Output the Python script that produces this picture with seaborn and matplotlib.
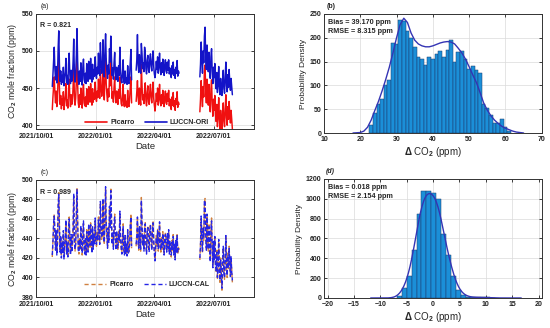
import numpy as np
import pandas as pd
import matplotlib
matplotlib.use("Agg")
import matplotlib.pyplot as plt
from matplotlib.lines import Line2D
import seaborn as sns

# ---------------- data ----------------
seg_starts = ["2021-10-26", "2022-03-04", "2022-06-10"]

picarro_s1 = [421,438,452,465,444,430,446,425,433,470,487,450,428,440,422,435,427,445,421,431,
              440,456,426,434,423,448,462,437,425,441,428,432,452,482,440,427,436,460,492,455,
              430,424,441,428,450,433,423,446,455,430,426,438,425,449,435,428,452,440,431,456,
              437,427,449,431,443,435,458,440,432,446,437,462,444,436,475,452,439,447,478,446,
              434,466,490,455,441,432,449,438,470,453,492,460,436,445,431,451,465,440,430,446,
              434,428,448,436,465,442,429,426,438,455,428,425,441,426,432,424,447,427,425,436,
              452,465,430]
picarro_s2 = [432,445,460,438,428,450,436,427,482,455,434,441,429,448,457,433,426,444,453,431,
              428,446,455,437,430,445,458,436,427,419,429,443,432,450,427,438,455,433,426,441,
              429,447,436,425,438,446,430,428,443,432,447,426,435,429,421,438,427,444,425,433,
              420,436,428,445,424,431,428]
picarro_s3 = [418,435,460,442,425,452,438,476,481,445,430,462,440,427,455,432,418,448,461,428,
              412,435,420,440,415,405,428,398,412,437,408,395,420,402,387,415,430,405,398,422,
              441,410,400,425,408,432,415,403,420,408,395]

ori_s1 = [452,468,486,505,476,461,479,457,466,503,527,482,459,473,455,467,458,478,453,463,
          472,490,457,467,455,482,497,468,456,474,459,464,486,516,471,458,469,494,530,487,
          461,455,473,459,484,464,454,478,489,462,457,470,456,483,467,459,486,472,462,490,
          468,458,482,462,475,466,492,471,463,478,469,497,475,467,511,484,470,479,515,478,
          465,500,523,487,472,463,481,469,503,485,520,492,467,477,462,484,498,471,461,478,
          465,459,480,467,505,474,460,457,470,488,459,456,473,457,464,455,480,458,456,468,
          486,502,461]
ori_s2 = [474,488,522,481,471,495,479,470,510,497,476,484,472,505,498,476,469,487,494,474,
          471,489,496,480,473,488,500,479,469,464,472,486,475,492,470,481,497,476,468,484,
          471,489,479,467,481,488,473,470,485,474,488,469,477,471,464,480,469,485,467,475,
          463,478,470,487,466,473,470]
ori_s3 = [465,482,512,488,470,500,484,520,532,490,475,508,485,472,498,476,463,492,503,472,
          456,478,464,483,459,449,471,444,455,479,452,441,463,446,440,458,474,449,443,466,
          485,453,445,468,451,475,458,447,463,452,441]

cal_s1 = [423,436,455,463,447,428,449,423,436,474,485,453,426,443,420,437,425,448,419,433,
          442,459,424,436,421,451,460,439,423,444,426,435,450,486,438,429,434,463,490,458,
          428,426,439,430,453,431,425,444,458,428,424,441,423,447,437,426,455,438,433,454,
          439,425,452,429,445,433,461,438,434,444,439,459,446,434,478,450,441,445,481,444,
          436,463,493,452,443,430,451,436,473,451,489,462,434,447,429,453,462,442,428,448,
          432,430,445,438,468,440,431,424,440,452,430,423,443,424,434,422,449,425,427,434,
          455,462,432]
cal_s2 = [434,443,462,436,430,452,434,429,479,457,432,443,427,450,455,435,424,446,451,433,
          426,448,453,439,428,447,456,438,425,417,431,441,434,448,429,436,457,431,428,439,
          431,445,438,423,440,444,432,426,445,430,449,424,437,427,423,436,429,442,423,435,
          418,438,426,443,426,429,430]
cal_s3 = [420,433,463,440,427,450,441,479,478,447,428,465,438,429,452,434,416,450,458,430,
          410,437,418,442,413,407,426,400,410,439,406,397,418,404,389,413,432,403,400,420,
          443,408,402,423,410,430,417,401,422,406,397]

date_ticks = ["2021-10-01", "2022-01-01", "2022-04-01", "2022-07-01"]
date_tick_labels = ["2021/10/01", "2022/01/01", "2022/04/01", "2022/07/01"]

# histogram of Delta CO2 (LUCCN-ORI - Picarro)
delta_b_centers = [23, 24, 25, 26, 27, 28, 29, 30, 31, 32, 33, 34, 35, 36, 37, 38, 39, 40, 41,
                   42, 43, 44, 45, 46, 47, 48, 49, 50, 51, 52, 53, 54, 55, 56, 57, 58, 59, 60, 61]
delta_b_counts = [17, 43, 60, 71, 100, 112, 190, 186, 238, 236, 215, 200, 180, 160, 155, 143,
                  160, 155, 165, 172, 160, 175, 195, 150, 170, 172, 155, 135, 140, 132, 125,
                  60, 52, 38, 20, 22, 30, 12, 4]
# fitted density curve of panel (b)
curve_b_x = [18, 20, 21, 22, 23, 24, 25, 26, 27, 28, 29, 30, 31, 32, 33, 34, 35, 36, 37, 38,
             39, 40, 41, 42, 43, 44, 45, 46, 47, 48, 49, 50, 51, 52, 53, 54, 55, 56, 57, 58,
             59, 60, 61, 62, 63, 64, 65]
curve_b_y = [0, 1, 4, 12, 27, 47, 66, 88, 112, 138, 168, 200, 228, 241, 232, 210, 195, 187,
             183, 181, 181, 183, 186, 189, 191, 192, 191, 187, 178, 168, 155, 139, 122, 106,
             85, 63, 48, 36, 27, 20, 14, 10, 7, 4, 2, 1, 0]
# histogram of Delta CO2 (LUCCN-CAL - Picarro)
delta_d_centers = [-6.40, -5.47, -4.54, -3.61, -2.68, -1.75, -0.82, 0.11, 1.04, 1.97, 2.90,
                   3.83, 4.76, 5.69, 6.62, 7.55, 8.48, 9.41, 10.34, 11.27]
delta_d_counts = [20, 100, 220, 480, 850, 1080, 1080, 1060, 1000, 640, 430, 220, 80, 30, 12,
                  6, 5, 5, 6, 2]

stats_a = "R = 0.821"
stats_c = "R = 0.989"
stats_b = ["Bias = 39.170 ppm", "RMSE = 8.315 ppm"]
stats_d = ["Bias = 0.018 ppm", "RMSE = 2.154 ppm"]

# ---------------- style ----------------
sns.set_theme(style="ticks")
plt.rcParams["font.family"] = ["Liberation Sans", "DejaVu Sans"]
plt.rcParams["font.weight"] = "bold"
plt.rcParams["mathtext.fontset"] = "custom"
plt.rcParams["mathtext.rm"] = "Liberation Sans"
plt.rcParams["mathtext.bf"] = "Liberation Sans:bold"

RED = "#f01010"
BLUE = "#1414c8"
ORANGE = "#d08040"
BLUE2 = "#2424e6"
BAR = "#1b8fd8"
KDE = "#3434b4"


def series_frame(segments, starts):
    frames = []
    for k, (vals, st) in enumerate(zip(segments, starts)):
        frames.append(pd.DataFrame({
            "date": pd.date_range(st, periods=len(vals), freq="D"),
            "co2": vals, "seg": k}))
    return pd.concat(frames, ignore_index=True)


def style(ax, xpad=2):
    ax.grid(True, color="#dadada", lw=0.5)
    ax.set_axisbelow(True)
    ax.tick_params(direction="in", length=2.2, width=0.6, top=True, right=True,
                   labelsize=5, pad=2, colors="#222222")
    ax.tick_params(axis="x", pad=xpad)
    for lab in ax.get_xticklabels() + ax.get_yticklabels():
        lab.set_fontweight("bold")
    for s in ax.spines.values():
        s.set_linewidth(0.7)
        s.set_color("#333333")


fig = plt.figure(figsize=(5.5, 3.28), dpi=100)
ax_a = fig.add_axes([0.0655, 0.607, 0.396, 0.351])
ax_c = fig.add_axes([0.0655, 0.0945, 0.396, 0.357])
ax_b = fig.add_axes([0.589, 0.5945, 0.396, 0.363])
ax_d = fig.add_axes([0.589, 0.0915, 0.396, 0.363])

df_p = series_frame([picarro_s1, picarro_s2, picarro_s3], seg_starts)
df_o = series_frame([ori_s1, ori_s2, ori_s3], seg_starts)
df_c = series_frame([cal_s1, cal_s2, cal_s3], seg_starts)

# ---- (a)
sns.lineplot(data=df_p, x="date", y="co2", units="seg", estimator=None, sort=False,
             color=RED, lw=1.05, ax=ax_a, legend=False)
sns.lineplot(data=df_o, x="date", y="co2", units="seg", estimator=None, sort=False,
             color=BLUE, lw=1.05, ax=ax_a, legend=False)
ax_a.set_ylim(395, 550)
ax_a.set_yticks([400, 450, 500, 550])
ax_a.legend(handles=[Line2D([], [], color=RED, lw=1.2, label="Picarro"),
                     Line2D([], [], color=BLUE, lw=1.2, label="LUCCN-ORI")],
            loc="lower center", bbox_to_anchor=(0.51, -0.03), ncol=2, frameon=False,
            fontsize=5, handlelength=3.2, columnspacing=1.5, handletextpad=0.4)
ax_a.text(0.02, 0.895, stats_a, transform=ax_a.transAxes, fontsize=5, va="center")
ax_a.text(0.02, 1.035, "(a)", transform=ax_a.transAxes, fontsize=5, va="bottom",
          fontweight="normal")

# ---- (c)
sns.lineplot(data=df_p, x="date", y="co2", units="seg", estimator=None, sort=False,
             color=ORANGE, lw=1.0, linestyle="--", ax=ax_c, legend=False)
sns.lineplot(data=df_c, x="date", y="co2", units="seg", estimator=None, sort=False,
             color=BLUE2, lw=1.0, linestyle="--", ax=ax_c, legend=False)
for ln in ax_c.lines:
    ln.set_dashes([3, 1.6])
ax_c.set_ylim(380, 500)
ax_c.set_yticks([380, 400, 420, 440, 460, 480, 500])
ax_c.legend(handles=[Line2D([], [], color=ORANGE, lw=1.0, ls=(0, (3, 2)), label="Picarro"),
                     Line2D([], [], color=BLUE2, lw=1.0, ls=(0, (3, 2)), label="LUCCN-CAL")],
            loc="lower center", bbox_to_anchor=(0.51, 0.02), ncol=2, frameon=False,
            fontsize=5, handlelength=3.2, columnspacing=1.5, handletextpad=0.4)
ax_c.text(0.02, 0.895, stats_c, transform=ax_c.transAxes, fontsize=5, va="center")
ax_c.text(0.02, 1.035, "(c)", transform=ax_c.transAxes, fontsize=5, va="bottom",
          fontweight="normal")

for ax in (ax_a, ax_c):
    ax.set_xlim(pd.Timestamp("2021-10-01"), pd.Timestamp("2022-09-01"))
    ax.set_xticks(pd.to_datetime(date_ticks))
    ax.set_xticklabels(date_tick_labels)
    ax.set_xlabel("Date", fontsize=6.8, labelpad=1.5)
    ax.set_ylabel(r"CO$_\mathbf{2}$ mole fraction (ppm)", fontsize=6.3, labelpad=2)
    style(ax, xpad=3)

# ---- histograms
def hist_panel(ax, centers, counts, width, kde, bw=1.0):
    hdf = pd.DataFrame({"delta": centers, "count": counts})
    edges = [c - width / 2 for c in centers] + [centers[-1] + width / 2]
    sns.histplot(data=hdf, x="delta", weights="count", bins=edges, kde=kde, ax=ax,
                 color=BAR, alpha=1, edgecolor="#1c3a6e", linewidth=0.35,
                 kde_kws=dict(bw_adjust=bw, cut=3), line_kws=dict(lw=1.0))
    for ln in ax.lines:
        ln.set_color(KDE)
    ax.set_xlabel(r"$\Delta$ CO$_2$ (ppm)", fontsize=7, fontweight="normal", labelpad=1.5)
    ax.set_ylabel("Probability Density", fontsize=6.0, labelpad=2)


hist_panel(ax_b, delta_b_centers, delta_b_counts, 1.0, kde=False)
sns.lineplot(x=curve_b_x, y=curve_b_y, color=KDE, lw=1.0, ax=ax_b, legend=False)
ax_b.set_xlim(10, 70)
ax_b.set_xticks(range(10, 71, 10))
ax_b.set_ylim(0, 250)
ax_b.set_yticks(range(0, 251, 50))
style(ax_b)
ax_b.text(0.02, 0.925, stats_b[0], transform=ax_b.transAxes, fontsize=5.2, va="center")
ax_b.text(0.02, 0.85, stats_b[1], transform=ax_b.transAxes, fontsize=5.2, va="center")
ax_b.text(0.01, 1.03, "(b)", transform=ax_b.transAxes, fontsize=5, va="bottom")

hist_panel(ax_d, delta_d_centers, delta_d_counts, 0.93, kde=True, bw=0.6)
ax_d.set_xlim(-20.7, 20.6)
ax_d.set_xticks(range(-20, 21, 5))
ax_d.set_ylim(0, 1200)
ax_d.set_yticks(range(0, 1201, 200))
style(ax_d)
ax_d.text(0.02, 0.925, stats_d[0], transform=ax_d.transAxes, fontsize=5.2, va="center")
ax_d.text(0.02, 0.85, stats_d[1], transform=ax_d.transAxes, fontsize=5.2, va="center")
ax_d.text(0.01, 1.03, "(d)", transform=ax_d.transAxes, fontsize=5, va="bottom",
          style="italic")

fig.savefig("out.png", dpi=100, facecolor="white")
